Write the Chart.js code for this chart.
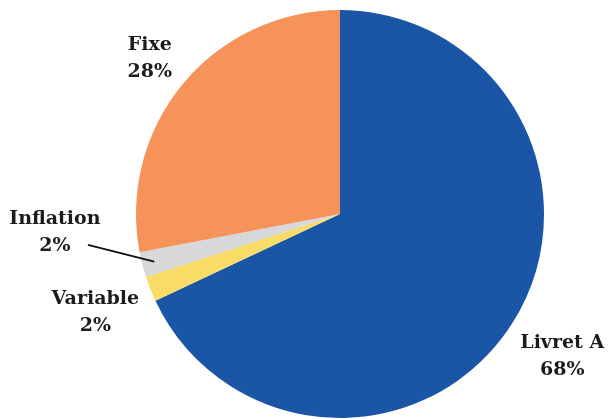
<!DOCTYPE html>
<html>
<head>
<meta charset="utf-8">
<script src="https://cdn.jsdelivr.net/npm/chart.js@4.4.1/dist/chart.umd.min.js"></script>
<style>
  html, body { margin: 0; padding: 0; background: #fff; }
  #wrap { width: 608px; height: 419px; }
</style>
</head>
<body>
<div id="wrap"><canvas id="repartition"></canvas></div>
<script>
// Répartition par type de placement
const categories = ['Livret A', 'Variable', 'Inflation', 'Fixe'];
const parts = [68, 2, 2, 28];
const couleurs = ['#1A56A5', '#F9DC68', '#D6D8DA', '#F6935A'];

// placement des étiquettes : distance au centre (en rayons) et décalage angulaire (degrés)
const distEtiquette = [1.29, 1.29, 1.40, 1.21];
const decalEtiquette = [0, 0, 11, 0];
const avecTrait = [false, false, true, false];

const etiquettesPlugin = {
    id: 'etiquettes',
    afterDatasetsDraw(chart) {
        const ctx = chart.ctx;
        const meta = chart.getDatasetMeta(0);
        ctx.save();
        ctx.font = 'bold 19px "DejaVu Serif"';
        ctx.fillStyle = '#1b1b1b';
        ctx.textAlign = 'center';
        ctx.textBaseline = 'middle';
        meta.data.forEach((arc, i) => {
            const p = arc.getProps(['x', 'y', 'startAngle', 'endAngle', 'outerRadius']);
            const mid = (p.startAngle + p.endAngle) / 2;
            const a = mid + decalEtiquette[i] * Math.PI / 180;
            const r = p.outerRadius * distEtiquette[i];
            const lx = p.x + Math.cos(a) * r;
            const ly = p.y + Math.sin(a) * r;
            ctx.fillText(categories[i], lx, ly - 12);
            ctx.fillText(parts[i] + '%', lx, ly + 15);

            if (avecTrait[i]) {
                // trait de rappel vers la part
                const a0 = mid + 7.4 * Math.PI / 180;
                const r0 = p.outerRadius * 1.245;
                const r1 = p.outerRadius * 0.94;
                ctx.beginPath();
                ctx.moveTo(p.x + Math.cos(a0) * r0, p.y + Math.sin(a0) * r0);
                ctx.lineTo(p.x + Math.cos(mid) * r1, p.y + Math.sin(mid) * r1);
                ctx.strokeStyle = '#111';
                ctx.lineWidth = 1.8;
                ctx.stroke();
            }
        });
        ctx.restore();
    }
};

new Chart(document.getElementById('repartition'), {
    type: 'pie',
    data: {
        labels: categories,
        datasets: [{
            data: parts,
            backgroundColor: couleurs,
            borderWidth: 0
        }]
    },
    options: {
        responsive: true,
        maintainAspectRatio: false,
        animation: false,
        layout: { padding: { left: 136, right: 64, top: 10, bottom: 1 } },
        plugins: {
            legend: { display: false },
            tooltip: { enabled: false }
        }
    },
    plugins: [etiquettesPlugin]
});
</script>
</body>
</html>
